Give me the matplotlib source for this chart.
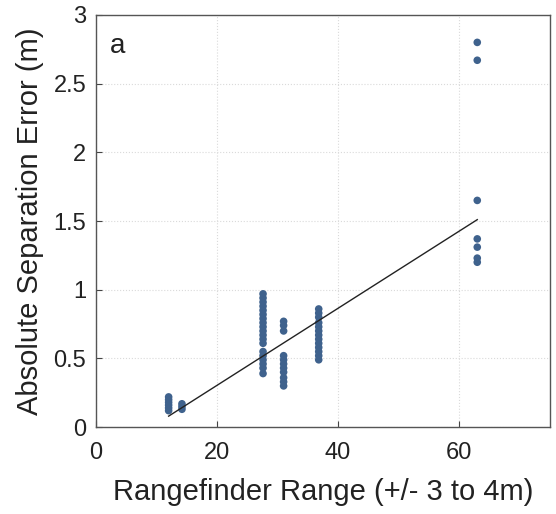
import numpy as np
import matplotlib.pyplot as plt

plt.rcParams['font.family'] = ['Liberation Sans', 'DejaVu Sans']

# rangefinder range groups and measured separation error (m)
x_12 = [12] * 6
y_12 = [0.12, 0.14, 0.16, 0.18, 0.20, 0.22]
x_14 = [14.2] * 3
y_14 = [0.13, 0.15, 0.17]
x_28 = [27.6] * 19
y_28 = [0.97, 0.94, 0.91, 0.88, 0.85, 0.82, 0.79, 0.76, 0.73, 0.70,
        0.67, 0.64, 0.61, 0.55, 0.52, 0.49, 0.46, 0.43, 0.39]
x_31 = [31] * 11
y_31 = [0.77, 0.74, 0.70, 0.52, 0.49, 0.46, 0.43, 0.40, 0.36, 0.33, 0.30]
x_37 = [36.8] * 13
y_37 = [0.86, 0.83, 0.80, 0.76, 0.73, 0.70, 0.67, 0.64, 0.61, 0.58,
        0.55, 0.52, 0.49]
x_63 = [63] * 7
y_63 = [2.80, 2.67, 1.65, 1.37, 1.31, 1.23, 1.20]

# linear fit endpoints
fit_x = [12, 63]
fit_y = [0.08, 1.51]

xs = np.concatenate([x_12, x_14, x_28, x_31, x_37, x_63])
ys = np.concatenate([y_12, y_14, y_28, y_31, y_37, y_63])

fig = plt.figure(figsize=(5.56, 5.14), dpi=100)
ax = fig.add_axes([0.1727, 0.169, 0.8163, 0.802])

ax.grid(linestyle=':', color='#dadada', linewidth=0.8)
ax.set_axisbelow(True)
ax.scatter(xs, ys, s=30, color='#3f628d', edgecolors='none', zorder=3)
ax.plot(fit_x, fit_y, color='#222222', linewidth=1.0, zorder=4)

ax.set_xlim(0, 75)
ax.set_ylim(0, 3)
ax.set_xticks([0, 20, 40, 60])
ax.set_yticks([0, 0.5, 1, 1.5, 2, 2.5, 3])
ax.set_yticklabels(['0', '0.5', '1', '1.5', '2', '2.5', '3'])
ax.tick_params(direction='in', labelsize=17, length=4, color='#444444',
               labelcolor='#222222')
ax.tick_params(axis='x', pad=11)
ax.tick_params(axis='y', pad=7)
for s in ax.spines.values():
    s.set_color('#555555')
    s.set_linewidth(1.0)

ax.set_xlabel('Rangefinder Range (+/- 3 to 4m)', fontsize=21, color='#222222', labelpad=10)
ax.set_ylabel('Absolute Separation Error (m)', fontsize=21, color='#222222', labelpad=7)
ax.text(0.03, 0.925, 'a', transform=ax.transAxes, fontsize=20, color='#222222',
        ha='left', va='center')

plt.savefig('out.png', dpi=100)
plt.close()
